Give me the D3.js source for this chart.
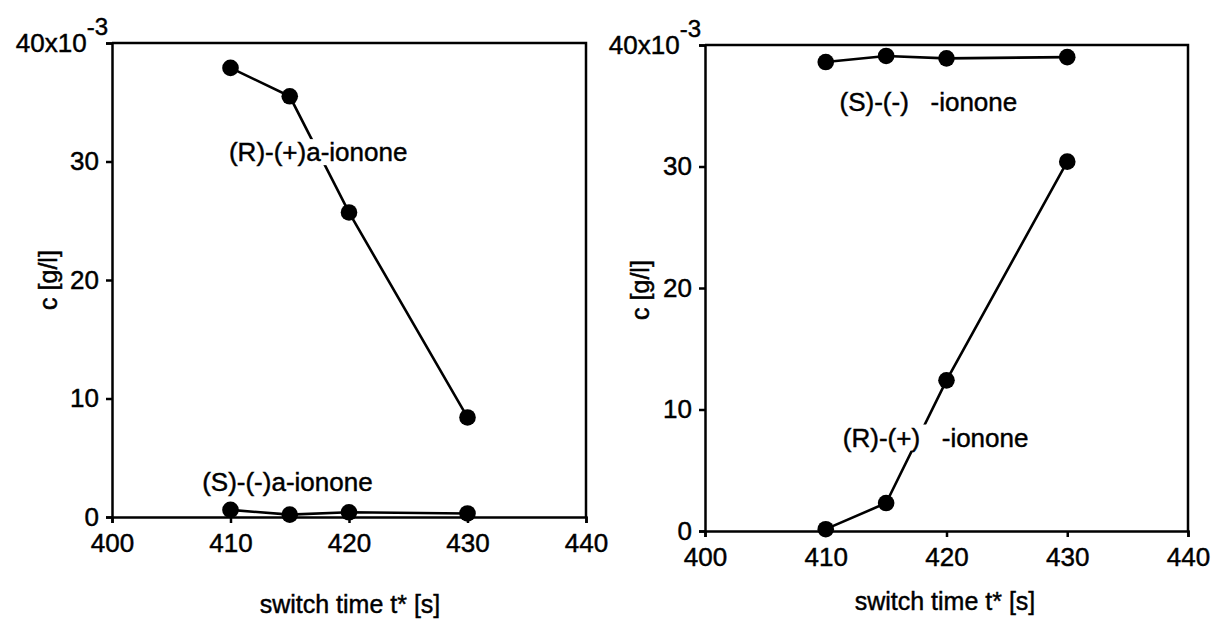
<!DOCTYPE html>
<html>
<head>
<meta charset="utf-8">
<script src="https://cdn.jsdelivr.net/npm/d3@7"></script>
<style>
  html, body { margin: 0; padding: 0; background: #fff; }
  svg { display: block; font-family: "Liberation Sans", Arial, sans-serif; }
  text { fill: #000; stroke: #000; stroke-width: 0.45px; }
  .tick text { font-size: 26px; }
  .domain, .tick line { stroke: #000; stroke-width: 2.5px; }
</style>
</head>
<body>
<svg id="chart" width="1215" height="623"></svg>
<script>
// switch times [s]
const switchTimes = [410, 415, 420, 430];

// left panel: concentrations [10^-3 g/l]
const leftR = [37.9, 35.5, 25.7, 8.4];   // (R)-(+)a-ionone
const leftS = [0.6, 0.2, 0.4, 0.3];      // (S)-(-)a-ionone

// right panel: concentrations [10^-3 g/l]
const rightS = [38.6, 39.1, 38.9, 39.0]; // (S)-(-) -ionone
const rightR = [0.15, 2.3, 12.4, 30.4];  // (R)-(+) -ionone

// axis ticks
const xTicks = [400, 410, 420, 430, 440];
const yTicks = [0, 10, 20, 30, 40];

const svg = d3.select("#chart");

function panel(cfg) {
  const x = d3.scaleLinear().domain([400, 440]).range([cfg.left, cfg.right]);
  const y = d3.scaleLinear().domain([0, 40]).range([cfg.bottom, cfg.top]);
  const g = svg.append("g");

  // frame (top and right edges)
  g.append("path")
    .attr("d", `M${cfg.left},${cfg.top}H${cfg.right}V${cfg.bottom}`)
    .attr("fill", "none").attr("stroke", "#000").attr("stroke-width", 2.5);

  const xAxis = g.append("g")
    .attr("transform", `translate(0,${cfg.bottom})`)
    .call(d3.axisBottom(x).tickValues(xTicks).tickSize(6).tickPadding(6).tickSizeOuter(6));
  xAxis.selectAll(".tick text").attr("dy", "0.9em");

  const yAxis = g.append("g")
    .attr("transform", `translate(${cfg.left},0)`)
    .call(d3.axisLeft(y).tickValues(yTicks).tickSize(6).tickPadding(7).tickSizeOuter(6));
  // top tick carries the 10^-3 multiplier
  yAxis.selectAll(".tick text").filter(d => d === 40)
    .attr("x", -4)
    .text("40x10")
    .append("tspan")
    .attr("dy", "-0.72em")
    .attr("font-size", "24px")
    .text("-3");

  const line = d3.line().x((d, i) => x(switchTimes[i])).y(d => y(d));

  cfg.series.forEach(s => {
    g.append("path").datum(s.values)
      .attr("d", line)
      .attr("fill", "none").attr("stroke", "#000").attr("stroke-width", 2.6);
  });

  // series labels on a white backing that interrupts the lines
  cfg.labels.forEach(l => {
    const t = g.append("text")
      .attr("x", x(l.x)).attr("y", y(l.y))
      .attr("dy", "0.35em")
      .attr("text-anchor", "middle")
      .attr("font-size", "26px")
      .style("white-space", "pre")
      .attr("xml:space", "preserve")
      .text(l.text);
    const b = t.node().getBBox();
    g.insert("rect", () => t.node())
      .attr("x", b.x - 2).attr("y", b.y + 2)
      .attr("width", b.width + 4).attr("height", b.height - 4)
      .attr("fill", "#fff");
  });

  cfg.series.forEach(s => {
    g.selectAll(null).data(s.values).join("circle")
      .attr("cx", (d, i) => x(switchTimes[i]))
      .attr("cy", d => y(d))
      .attr("r", 8.3)
      .attr("fill", "#000");
  });

  g.append("text")
    .attr("transform", `translate(${cfg.yTitleX},${cfg.yTitleY}) rotate(-90)`)
    .attr("text-anchor", "middle").attr("dy", "0.35em")
    .attr("font-size", "25px")
    .text("c [g/l]");

  g.append("text")
    .attr("x", cfg.xTitleX).attr("y", cfg.xTitleY)
    .attr("text-anchor", "middle").attr("dy", "0.35em")
    .attr("font-size", "25px")
    .text("switch time t* [s]");
}

panel({
  left: 112, right: 586, top: 43, bottom: 517,
  yTitleX: 48, yTitleY: 280, xTitleX: 350, xTitleY: 604,
  series: [{ values: leftR }, { values: leftS }],
  labels: [
    { text: "(R)-(+)a-ionone", x: 417.4, y: 30.8 },
    { text: "(S)-(-)a-ionone", x: 414.8, y: 2.95 }
  ]
});

panel({
  left: 705, right: 1188, top: 45, bottom: 531,
  yTitleX: 640, yTitleY: 290, xTitleX: 945, xTitleY: 601,
  series: [{ values: rightS }, { values: rightR }],
  labels: [
    { text: "(S)-(-)   -ionone", x: 418.5, y: 35.3 },
    { text: "(R)-(+)   -ionone", x: 419.1, y: 7.7 }
  ]
});
</script>
</body>
</html>
